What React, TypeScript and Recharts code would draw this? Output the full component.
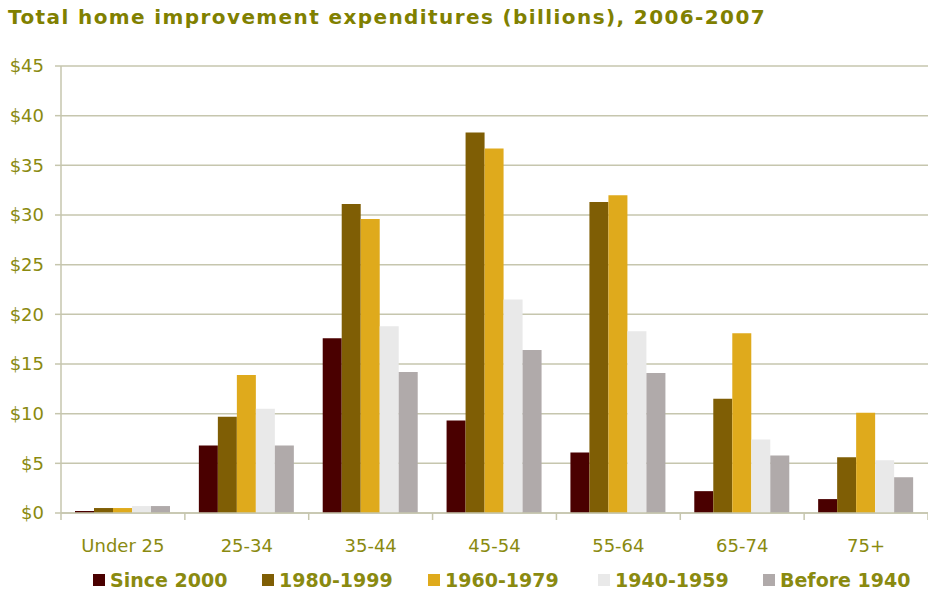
import React from 'react';
import { BarChart, Bar, XAxis, YAxis, CartesianGrid } from 'recharts';

const ageGroups = ['Under 25', '25-34', '35-44', '45-54', '55-64', '65-74', '75+'];
const since2000 = [0.2, 6.8, 17.6, 9.3, 6.1, 2.2, 1.4];
const y1980to1999 = [0.5, 9.7, 31.1, 38.3, 31.3, 11.5, 5.6];
const y1960to1979 = [0.5, 13.9, 29.6, 36.7, 32.0, 18.1, 10.1];
const y1940to1959 = [0.7, 10.5, 18.8, 21.5, 18.3, 7.4, 5.3];
const before1940 = [0.7, 6.8, 14.2, 16.4, 14.1, 5.8, 3.6];
const yTicks = [0, 5, 10, 15, 20, 25, 30, 35, 40, 45];

const data = ageGroups.map((g, i) => ({
  group: g,
  since2000: since2000[i],
  y1980: y1980to1999[i],
  y1960: y1960to1979[i],
  y1940: y1940to1959[i],
  before1940: before1940[i],
}));

const series = [
  { key: 'since2000', name: 'Since 2000', color: '#4a0000' },
  { key: 'y1980', name: '1980-1999', color: '#7f5e05' },
  { key: 'y1960', name: '1960-1979', color: '#dfaa1c' },
  { key: 'y1940', name: '1940-1959', color: '#e9e9e9' },
  { key: 'before1940', name: 'Before 1940', color: '#b0aaaa' },
];
const legendLeft = [93, 262, 428, 598, 763];

const OLIVE = '#8a8a10';
const GRID = '#c6c6ae';
const FONT = '"DejaVu Sans", Verdana, sans-serif';
const PLOT_LEFT = 61;
const PLOT_RIGHT = 928;
const BAND = (PLOT_RIGHT - PLOT_LEFT) / ageGroups.length;

const XTick = (props: any) => {
  const { x, y, payload, index } = props;
  const left = x - BAND / 2;
  return (
    <g>
      <line x1={left} x2={left} y1={y - 8} y2={y - 1} stroke={GRID} strokeWidth={1.5} />
      {index === ageGroups.length - 1 && (
        <line x1={x + BAND / 2} x2={x + BAND / 2} y1={y - 8} y2={y - 1} stroke={GRID} strokeWidth={1.5} />
      )}
      <text x={x} y={y + 31} textAnchor="middle" fill={OLIVE} fontSize={18} fontFamily={FONT}>
        {payload.value}
      </text>
    </g>
  );
};

export default function App() {
  return (
    <div style={{ position: 'absolute', left: 0, top: 0, width: 928, height: 595, background: '#fff', fontFamily: FONT }}>
      <div style={{ position: 'absolute', left: 8, top: 5, fontSize: 20, letterSpacing: 1.4, fontWeight: 'bold', color: '#808000', whiteSpace: 'nowrap' }}>
        Total home improvement expenditures (billions), 2006-2007
      </div>
      <BarChart
        width={928}
        height={595}
        data={data}
        margin={{ top: 66, right: 0, left: 0, bottom: 32 }}
        barCategoryGap={14}
        barGap={0}
      >
        <CartesianGrid vertical={false} stroke={GRID} strokeWidth={1.5} />
        <XAxis
          dataKey="group"
          height={50}
          axisLine={{ stroke: GRID, strokeWidth: 1.5 }}
          tickLine={false}
          tick={<XTick />}
          interval={0}
        />
        <YAxis
          width={61}
          domain={[0, 45]}
          ticks={yTicks}
          tickFormatter={(v: number) => `$${v}`}
          axisLine={{ stroke: GRID, strokeWidth: 1.5 }}
          tickLine={{ stroke: GRID, strokeWidth: 1.5 }}
          tickSize={6}
          tickMargin={11}
          tick={{ fill: OLIVE, fontSize: 18, fontFamily: FONT }}
        />
        {series.map((s) => (
          <Bar key={s.key} dataKey={s.key} name={s.name} fill={s.color} isAnimationActive={false} />
        ))}
      </BarChart>
      {series.map((s, i) => (
        <div
          key={s.key}
          style={{ position: 'absolute', top: 569, left: legendLeft[i], display: 'flex', alignItems: 'center', fontSize: 19, fontWeight: 'bold', color: OLIVE, whiteSpace: 'nowrap' }}
        >
          <span style={{ width: 12, height: 12, background: s.color, display: 'inline-block', marginRight: 5 }} />
          <span>{s.name}</span>
        </div>
      ))}
    </div>
  );
}
